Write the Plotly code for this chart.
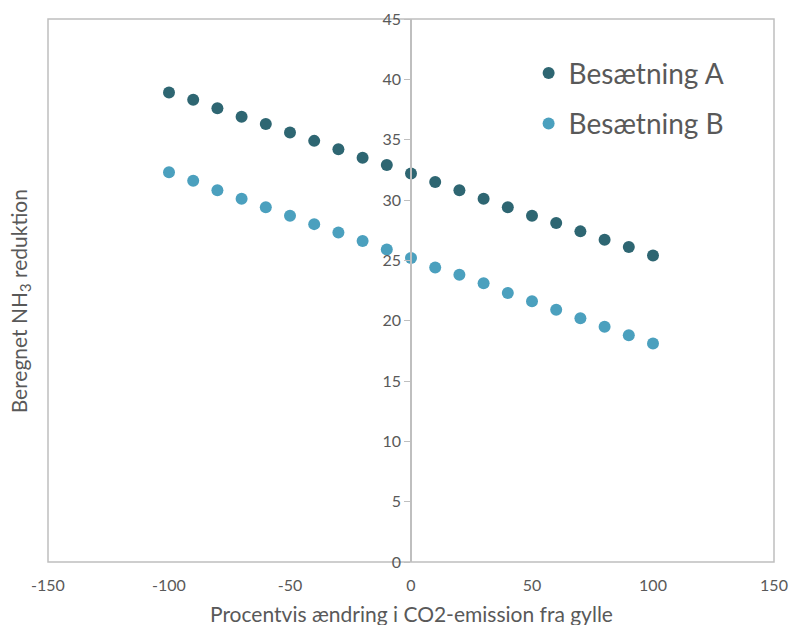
import plotly.graph_objects as go

x_vals = [-100, -90, -80, -70, -60, -50, -40, -30, -20, -10, 0, 10, 20, 30, 40, 50, 60, 70, 80, 90, 100]
besaetning_a = [38.9, 38.3, 37.6, 36.9, 36.3, 35.6, 34.9, 34.2, 33.5, 32.9, 32.2,
                31.5, 30.8, 30.1, 29.4, 28.7, 28.1, 27.4, 26.7, 26.1, 25.4]
besaetning_b = [32.3, 31.6, 30.8, 30.1, 29.4, 28.7, 28.0, 27.3, 26.6, 25.9, 25.2,
                24.4, 23.8, 23.1, 22.3, 21.6, 20.9, 20.2, 19.5, 18.8, 18.1]
x_ticks = [-150, -100, -50, 0, 50, 100, 150]
y_ticks = [0, 5, 10, 15, 20, 25, 30, 35, 40, 45]

FONT = "Lato"
GREY = "#595959"
LINE = "#BFBFBF"

fig = go.Figure()
fig.add_trace(go.Scatter(x=x_vals, y=besaetning_a, mode="markers", name="Besætning A",
                         legendgroup="a", marker=dict(color="#2E6672", size=12)))
fig.add_trace(go.Scatter(x=x_vals, y=besaetning_b, mode="markers", name="Besætning B",
                         legendgroup="b", marker=dict(color="#4BA0BE", size=12)))

fig.update_layout(
    width=790, height=625,
    margin=dict(l=48, r=16, t=19, b=63, autoexpand=False),
    paper_bgcolor="white", plot_bgcolor="white",
    font=dict(family=FONT, color=GREY),
    showlegend=True,
    legend=dict(x=0.662, y=0.946, xanchor="left", yanchor="top",
                font=dict(size=28, color=GREY, family=FONT),
                bgcolor="rgba(0,0,0,0)", tracegroupgap=11),
    xaxis=dict(range=[-150, 150], tickvals=x_ticks, ticktext=[str(v) for v in x_ticks],
               showgrid=False, zeroline=False, automargin=False,
               showline=False, ticks="", ticklabelstandoff=12,
               tickfont=dict(size=16, color=GREY)),
    yaxis=dict(range=[0, 45], tickvals=y_ticks, ticktext=[str(v) for v in y_ticks],
               showgrid=False, zeroline=False, automargin=False,
               anchor="free", position=0.5, showline=True, linecolor=LINE, linewidth=1.5,
               ticks="outside", ticklen=6, tickcolor=LINE,
               tickfont=dict(size=16, color=GREY)),
    shapes=[dict(type="rect", xref="paper", yref="paper", x0=0, x1=1, y0=0, y1=1,
                 line=dict(color=LINE, width=1.5), fillcolor="rgba(0,0,0,0)", layer="below")],
    annotations=[
        dict(text="Beregnet NH<sub>3</sub> reduktion", xref="paper", yref="paper",
             x=0, y=0.48, xshift=-28, xanchor="center", yanchor="middle",
             textangle=-90, showarrow=False,
             font=dict(size=21, color=GREY, family=FONT)),
        dict(text="Procentvis ændring i CO2-emission fra gylle", xref="paper", yref="paper",
             x=0.5, y=0, yshift=-51, xanchor="center", yanchor="middle",
             showarrow=False, font=dict(size=21, color=GREY, family=FONT)),
    ],
)

fig.write_html("out.html")
